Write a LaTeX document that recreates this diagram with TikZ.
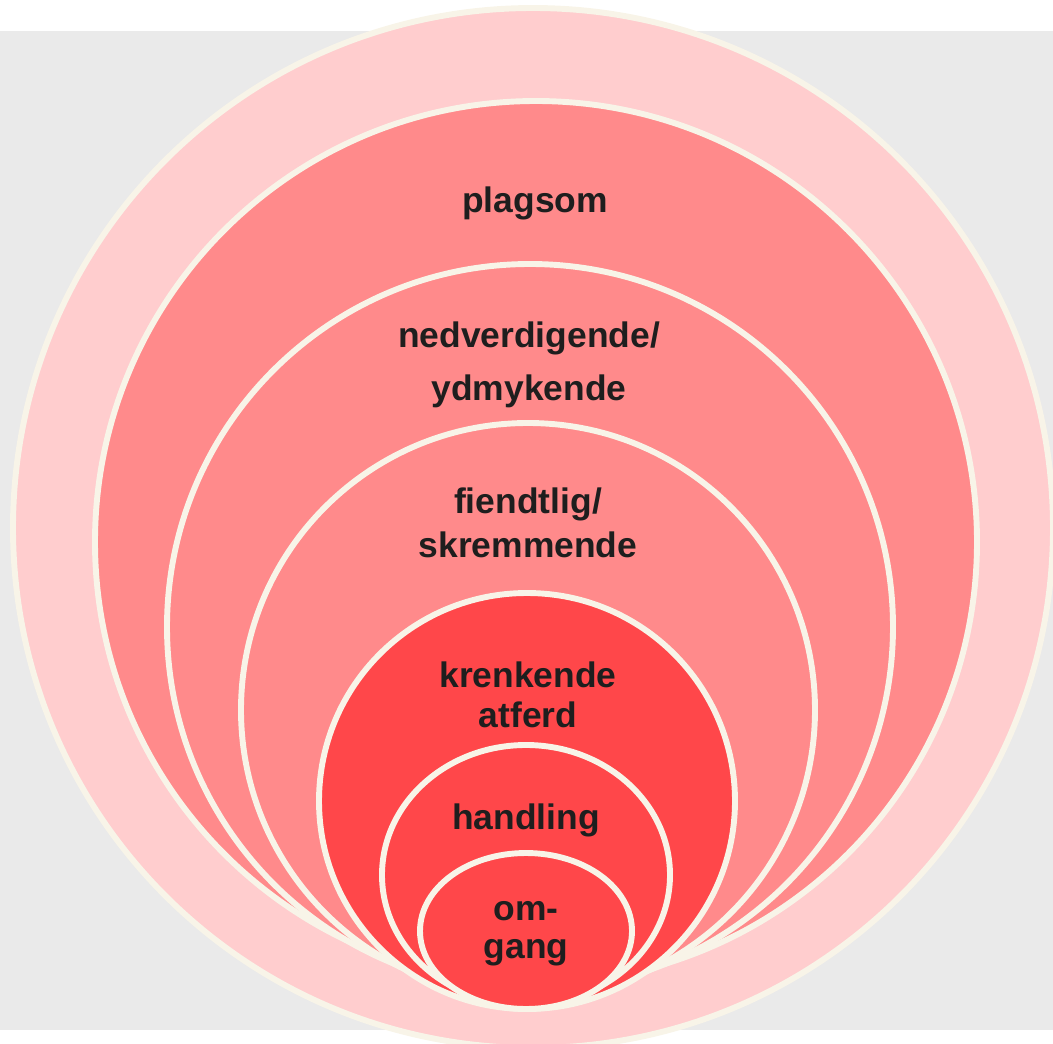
\documentclass[tikz,border=0pt]{standalone}
\usepackage{fontspec}
\setmainfont{Liberation Sans}
\usepackage{tikz}
\usetikzlibrary{shadows}

\definecolor{bggray}{HTML}{EAEAEA}
\definecolor{ringlight}{HTML}{FFCDCE}
\definecolor{ringmid}{HTML}{FF8A8B}
\definecolor{ringred}{HTML}{FF474A}
\definecolor{edgecream}{HTML}{F8F4E8}
\definecolor{txtdark}{HTML}{1E1E1E}

\begin{document}
\begin{tikzpicture}[x=0.025cm, y=-0.025cm,
  ring/.style={draw=edgecream, line width=4.2pt},
  shade ring/.style={ring, drop shadow={shadow xshift=0.6pt, shadow yshift=-0.8pt, opacity=0.25}},
  lbl/.style={text=txtdark, align=center, anchor=base, inner sep=0pt}]

\useasboundingbox (0,0) rectangle (1053,1044);
\fill[bggray] (0,31) rectangle (1053,1030); %background

\filldraw[ring, fill=ringlight] (533,528) circle [radius=520]; %outer ring
\filldraw[shade ring, fill=ringmid] (536,542) circle [radius=441]; %plagsom
\filldraw[shade ring, fill=ringmid] (530,627) circle [radius=363]; %nedverdigende
\filldraw[shade ring, fill=ringmid] (528,710) circle [radius=287]; %fiendtlig
\filldraw[shade ring, fill=ringred] (527,801) circle [radius=208]; %krenkende
\filldraw[shade ring, fill=ringred] (526,875) ellipse [x radius=144, y radius=130]; %handling
\filldraw[shade ring, fill=ringred] (526,931) ellipse [x radius=106, y radius=78]; %omgang

% base = baseline of the last line
\node[lbl, font=\bfseries\fontsize{25.2}{30}\selectfont] (plagsom) at (535,213) {plagsom};
\node[lbl, font=\bfseries\fontsize{25.2}{37.6}\selectfont] (nedverdig) at (529,400) {nedverdigende/\\ydmykende};
\node[lbl, font=\bfseries\fontsize{25.2}{31.2}\selectfont] (fiendtlig) at (528,557) {fiendtlig/\\skremmende};
\node[lbl, font=\bfseries\fontsize{25.2}{28.4}\selectfont] (krenkende) at (528,727) {krenkende\\atferd};
\node[lbl, font=\bfseries\fontsize{25.2}{30}\selectfont] (handling) at (526,829) {handling};
\node[lbl, font=\bfseries\fontsize{25.2}{27}\selectfont] (omgang) at (526,958) {om-\\gang};
\end{tikzpicture}
\end{document}
